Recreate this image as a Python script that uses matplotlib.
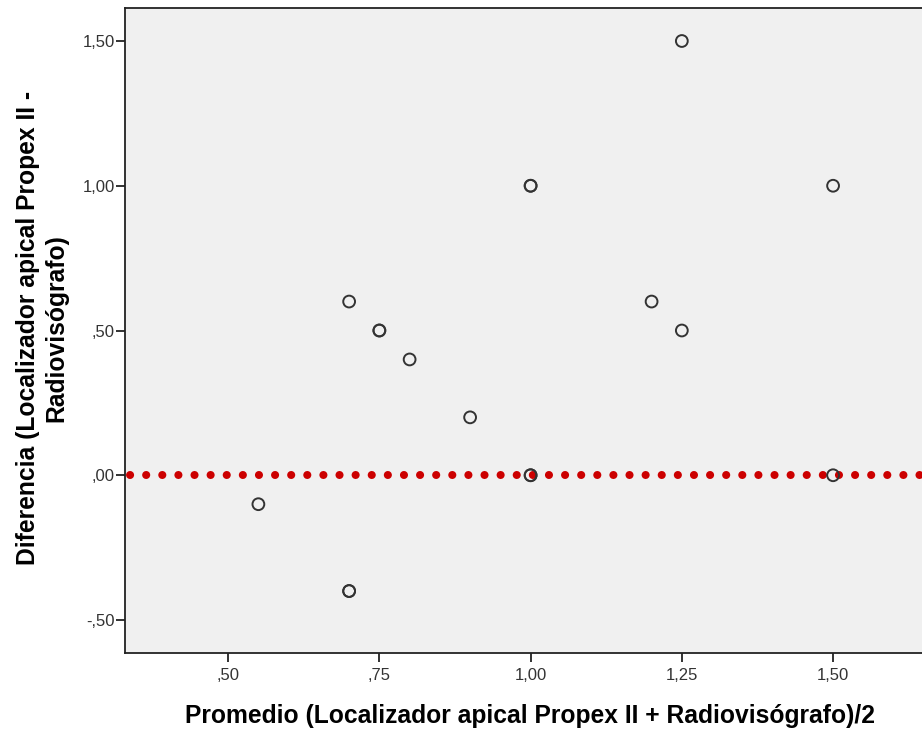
import matplotlib.pyplot as plt
from matplotlib.ticker import FuncFormatter

plt.rcParams['font.family'] = ['Liberation Sans', 'DejaVu Sans']

# Bland-Altman data (average, difference)
promedio = [0.55, 0.70, 0.70, 0.70, 0.75, 0.75, 0.80, 0.90, 1.00, 1.00,
            1.00, 1.00, 1.20, 1.25, 1.25, 1.50, 1.50]
diferencia = [-0.10, 0.60, -0.40, -0.40, 0.50, 0.50, 0.40, 0.20, 1.00, 1.00,
              0.00, 0.00, 0.60, 1.50, 0.50, 1.00, 0.00]
xticks = [0.50, 0.75, 1.00, 1.25, 1.50]
yticks = [-0.50, 0.00, 0.50, 1.00, 1.50]


def spss_fmt(v, pos=None):
    s = f"{v:.2f}".replace('.', ',')
    if s.startswith('0,'):
        s = s[1:]
    elif s.startswith('-0,'):
        s = '-' + s[2:]
    return s


fig = plt.figure(figsize=(9.22, 7.32), dpi=100)
ax = fig.add_axes([125 / 922, 79 / 732, 797 / 922, 645 / 732])
ax.set_facecolor('#F0F0F0')

# reference line at zero, round red dots every ~16 px
ax.axhline(0, color='#CC0000', lw=5.8, linestyle=(1.375, (0.01, 1.99)),
           dash_capstyle='round', zorder=2)
ax.scatter(promedio, diferencia, s=72, facecolors='none', edgecolors='#333333',
           linewidths=1.4, zorder=3)

ax.set_xlim(0.3295, 1.647)
ax.set_ylim(-0.614, 1.614)
ax.set_xticks(xticks)
ax.set_yticks(yticks)
ax.xaxis.set_major_formatter(FuncFormatter(spss_fmt))
ax.yaxis.set_major_formatter(FuncFormatter(spss_fmt))
ax.tick_params(length=6.5, width=1.3, labelsize=12, colors='#222222',
               labelcolor='#333333')
ax.tick_params(axis='y', pad=1)
ax.tick_params(axis='x', pad=4)

ax.spines['right'].set_visible(False)
for side in ['left', 'bottom', 'top']:
    ax.spines[side].set_linewidth(1.3)
    ax.spines[side].set_color('#222222')

ax.set_xlabel('Promedio (Localizador apical Propex II + Radiovisógrafo)/2',
              fontsize=17.7, fontweight='bold', va='center')
ax.xaxis.set_label_coords(0.508, -0.0977)
ax.set_ylabel('Diferencia (Localizador apical Propex II -\nRadiovisógrafo)',
              fontsize=17.7, fontweight='bold', va='center', linespacing=1.25)
ax.yaxis.set_label_coords(-0.104, 0.504)

fig.savefig('out.png', dpi=100)
